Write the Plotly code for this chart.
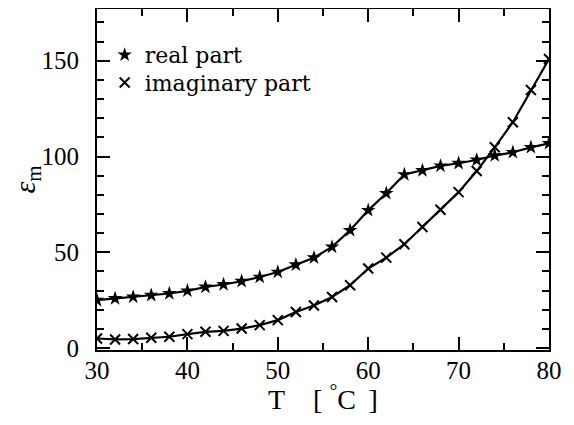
import plotly.graph_objects as go

T = [30, 32, 34, 36, 38, 40, 42, 44, 46, 48, 50, 52, 54, 56, 58, 60, 62, 64, 66, 68, 70, 72, 74, 76, 78, 80]
real_part = [25.0, 25.9, 26.7, 27.6, 28.5, 29.9, 31.9, 33.2, 34.9, 37.1, 39.7, 43.5, 47.2,
             52.8, 61.5, 71.9, 80.8, 90.6, 92.7, 95.1, 96.5, 98.2, 100.5, 102.2, 104.8, 106.9]
imag_part = [5.0, 4.5, 4.7, 5.4, 5.9, 7.3, 8.5, 9.0, 10.2, 12.0, 14.6, 18.8, 22.2,
             26.7, 32.8, 41.5, 47.2, 54.2, 63.2, 72.2, 81.4, 92.4, 104.8, 117.9, 134.7, 150.9]
x_ticks = [30, 40, 50, 60, 70, 80]
y_ticks = [0, 50, 100, 150]

FONT = "Liberation Serif"
LEG_FONT = "DejaVu Serif"

fig = go.Figure()
fig.add_trace(go.Scatter(x=T, y=real_part, mode="lines+markers", showlegend=False,
                         line=dict(color="black", width=2.2),
                         marker=dict(symbol="star", size=11, color="black")))
fig.add_trace(go.Scatter(x=T, y=imag_part, mode="lines+markers", showlegend=False,
                         line=dict(color="black", width=2.2),
                         marker=dict(symbol="x-thin", size=10, color="black",
                                     line=dict(color="black", width=2))))
# legend entries (marker only), one per legend box for exact row spacing
fig.add_trace(go.Scatter(x=[None], y=[None], mode="markers", name="real part", legend="legend",
                         marker=dict(symbol="star", size=11, color="black")))
fig.add_trace(go.Scatter(x=[None], y=[None], mode="markers", name="imaginary part", legend="legend2",
                         marker=dict(symbol="x-thin", size=10, color="black",
                                     line=dict(color="black", width=2))))

axis_common = dict(showline=True, linecolor="black", linewidth=2, mirror="allticks",
                   ticks="inside", tickcolor="black", tickwidth=1.5, ticklen=13,
                   showgrid=False, zeroline=False,
                   tickfont=dict(family=FONT, size=25, color="black"))

fig.update_xaxes(range=[30, 80], tickvals=x_ticks, ticklabelstandoff=-3,
                 minor=dict(dtick=5, ticks="inside", ticklen=7, tickcolor="black", tickwidth=1.5),
                 **axis_common)
fig.update_yaxes(range=[-1, 177], tickvals=y_ticks, ticklabelstandoff=11,
                 minor=dict(dtick=10, ticks="inside", ticklen=7, tickcolor="black", tickwidth=1.5),
                 title=dict(text="<i>ε</i><sub>m</sub>", standoff=6,
                            font=dict(family=FONT, size=30, color="black")),
                 **axis_common)

fig.add_annotation(text="T&nbsp;&nbsp;&nbsp;&nbsp;[&nbsp;<sup>°</sup>C&nbsp;\u2009]",
                   xref="paper", yref="paper", x=0.5, y=0, xanchor="center", yanchor="middle",
                   yshift=-47, showarrow=False,
                   font=dict(family=FONT, size=28, color="black"))

leg_common = dict(xanchor="left", yanchor="middle", bgcolor="rgba(0,0,0,0)",
                  itemwidth=30, font=dict(family=LEG_FONT, size=22, color="black"))
fig.update_layout(width=566, height=417,
                  margin=dict(l=89, r=25, t=1, b=75, autoexpand=False),
                  paper_bgcolor="white", plot_bgcolor="white",
                  legend=dict(x=0.017, y=0.865, **leg_common),
                  legend2=dict(x=0.017, y=0.784, **leg_common))

fig.write_html("out.html")
